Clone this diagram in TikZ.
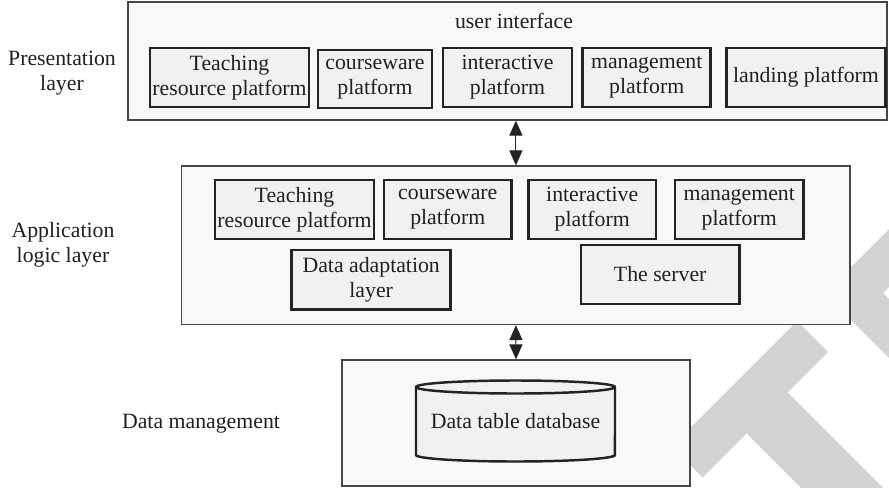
\documentclass[tikz,border=0pt]{standalone}
\usepackage{fontspec}
\setmainfont{Liberation Serif}
\usetikzlibrary{arrows.meta}

\definecolor{wmgray}{RGB}{211,211,211}
\definecolor{layerfill}{RGB}{248,248,248}
\definecolor{boxfill}{RGB}{240,242,241}
\definecolor{edgedark}{RGB}{35,35,35}
\definecolor{edgelayer}{RGB}{70,70,70}
\definecolor{inktext}{RGB}{35,31,32}

\begin{document}
\begin{tikzpicture}[x=0.02cm, y=-0.02cm,
  every node/.style={font=\fontsize{12.4}{14.2}\selectfont, text=inktext, inner sep=0pt},
  layer/.style={rectangle, draw=edgelayer, line width=0.7pt, fill=layerfill},
  unit/.style={rectangle, draw=edgedark, line width=1.4pt, fill=boxfill, align=center},
  caption/.style={align=center},
  link/.style={line width=0.6pt, draw=edgedark,
    {Triangle[length=3mm,width=2.6mm]}-{Triangle[length=3mm,width=2.6mm]}},
  cyl/.style={draw=edgedark, line width=1.4pt, fill=boxfill}
]
\useasboundingbox (0,0) rectangle (889,487);

% large grey lettering in the background
\begin{scope}
  \clip (0,0) rectangle (889,487);
  \fill[wmgray] (671.5,446.5) -- (797,321) -- (828,352) -- (702.5,477.5) -- cycle;
  \fill[wmgray] (746.5,433.5) -- (787.5,392.5) -- (897.5,502.5) -- (856.5,543.5) -- cycle;
  \fill[wmgray] (824.5,293.5) -- (854,264) -- (995,405) -- (965.5,434.5) -- cycle;
  \fill[wmgray] (824.5,293.5) -- (959,159) -- (988,188) -- (853.5,322.5) -- cycle;
\end{scope}

% presentation layer
\node[layer, minimum width=15.18cm, minimum height=2.36cm] (P) at (507.5,61) {};
\node[anchor=base] (ui) at (514,28.5) {user interface};
\node[unit, minimum width=3.18cm, minimum height=1.17cm] (pT) at (229.5,77.5) {Teaching\\resource platform};
\node[unit, minimum width=2.28cm, minimum height=1.17cm] (pC) at (375,79) {courseware\\platform};
\node[unit, minimum width=2.57cm, minimum height=1.17cm] (pI) at (507.5,77.5) {interactive\\platform};
\node[unit, minimum width=2.56cm, minimum height=1.17cm] (pM) at (646.7,77.5) {management\\platform};
\node[unit, minimum width=3.18cm, minimum height=1.17cm] (pL) at (806,77.5) {landing platform};

% application logic layer
\node[layer, minimum width=13.37cm, minimum height=3.17cm] (A) at (515.9,245.3) {};
\node[unit, minimum width=3.18cm, minimum height=1.18cm] (aT) at (294.5,209.5) {Teaching\\resource platform};
\node[unit, minimum width=2.55cm, minimum height=1.18cm] (aC) at (447.8,209.5) {courseware\\platform};
\node[unit, minimum width=2.55cm, minimum height=1.18cm] (aI) at (592.2,209.5) {interactive\\platform};
\node[unit, minimum width=2.57cm, minimum height=1.18cm] (aM) at (739.2,209.5) {management\\platform};
\node[unit, minimum width=3.18cm, minimum height=1.19cm] (aD) at (371.2,279.7) {Data adaptation\\layer};
\node[unit, minimum width=3.17cm, minimum height=1.18cm] (aS) at (660.2,274.5) {The server};

% data management layer
\node[layer, minimum width=6.96cm, minimum height=2.52cm] (D) at (516,423) {};
\path[cyl] (416,387) -- (416,455)
  arc[start angle=180, end angle=360, x radius=1.99cm, y radius=0.13cm]
  -- (615,387)
  arc[start angle=0, end angle=180, x radius=1.99cm, y radius=0.13cm] -- cycle;
\draw[edgedark, line width=1.4pt] (416,387)
  arc[start angle=180, end angle=360, x radius=1.99cm, y radius=0.13cm];
\node[anchor=base] (db) at (515.5,428) {Data table database};

% layer captions
\node[caption] (capP) at (62,73) {Presentation\\layer};
\node[caption] (capA) at (63,245) {Application\\logic layer};
\node[anchor=base] (capD) at (201,428) {Data management};

% links between layers
\draw[link] (A.north |- P.south) -- (A.north);
\draw[link] (A.south) -- (D.north);
\end{tikzpicture}
\end{document}
